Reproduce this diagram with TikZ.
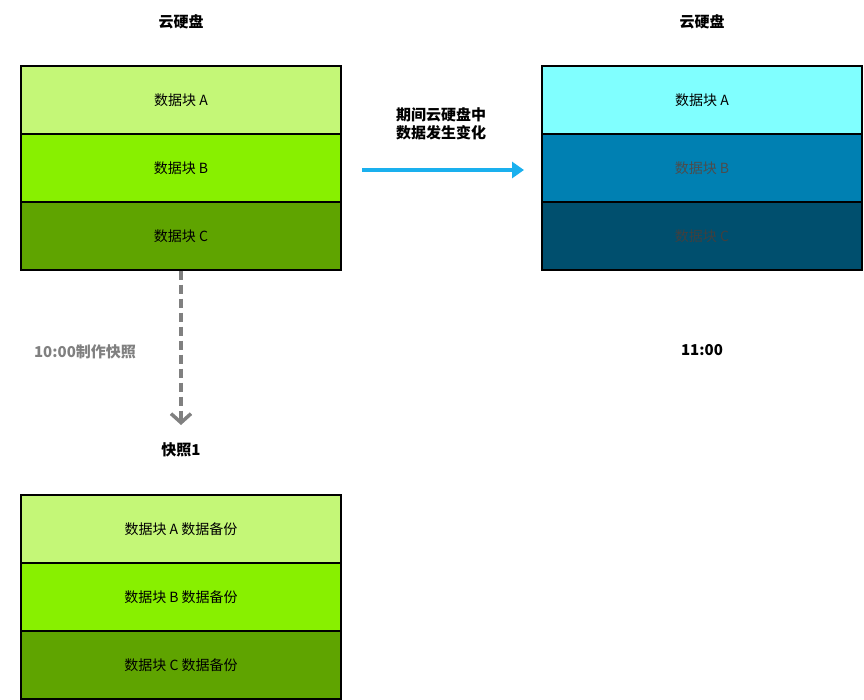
\documentclass[tikz,border=0pt]{standalone}
\usepackage{fontspec}
\setmainfont{Noto Sans CJK SC}
\usetikzlibrary{arrows.meta}
\definecolor{gA}{HTML}{C4F777}
\definecolor{gB}{HTML}{88F000}
\definecolor{gC}{HTML}{5FA400}
\definecolor{bA}{HTML}{80FFFF}
\definecolor{bB}{HTML}{0080B2}
\definecolor{bC}{HTML}{004F6E}
\definecolor{arrblue}{HTML}{1AB0EE}
\tikzset{blk/.style={draw=black,line width=1.2pt,minimum width=320pt,minimum height=68pt,inner sep=0pt,font=\fontsize{14}{16}\selectfont},
ttl/.style={font=\bfseries\fontsize{15}{18}\selectfont}}
\begin{document}
\begin{tikzpicture}[x=1pt,y=-1pt]
\useasboundingbox (0,0) rectangle (864,700);
\node[blk,fill=gA] (l1) at (181,100) {数据块 A};
\node[blk,fill=gB] (l2) at (181,168) {数据块 B};
\node[blk,fill=gC] (l3) at (181,236) {数据块 C};
\node[blk,fill=bA] (r1) at (702,100) {数据块 A};
\node[blk,fill=bB,text=black!70] (r2) at (702,168) {数据块 B};
\node[blk,fill=bC,text=black!75] (r3) at (702,236) {数据块 C};
\node[blk,fill=gA] (s1) at (181,529) {数据块 A 数据备份};
\node[blk,fill=gB] (s2) at (181,597) {数据块 B 数据备份};
\node[blk,fill=gC] (s3) at (181,665) {数据块 C 数据备份};
\node[ttl] (t1) at (181,22) {云硬盘};
\node[ttl] (t2) at (702,22) {云硬盘};
\node[ttl] (t3) at (181,450) {快照1};
\node[ttl] (t4) at (702,350) {11:00};
\node[ttl,text=gray] (lab) at (85,352) {10:00制作快照};
\node[ttl,align=center,inner sep=0pt] (mid) at (441,124) {期间云硬盘中\\数据发生变化};
\coordinate (a0) at (362,170);
\coordinate (a1) at (524,170);
\draw[arrblue,line width=4pt,-{Triangle[length=12pt,width=16pt]}] (a0) -- (a1);
\coordinate (d1) at (181,425);
\draw[gray,line width=3.5pt,dash pattern=on 9pt off 5pt,-{Straight Barb[length=9pt,width=20pt,line width=3.5pt]}] (l3.south) -- (d1);
\end{tikzpicture}
\end{document}
